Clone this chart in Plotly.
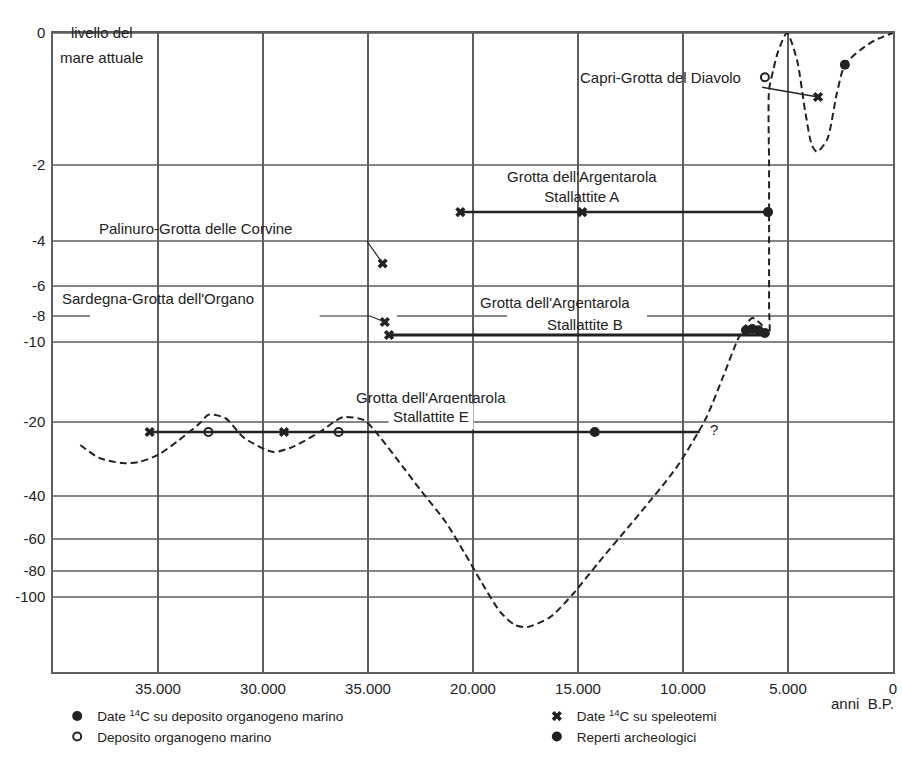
import numpy as np
import plotly.graph_objects as go

# y scale of the original drawing is not linear: metres -> drawing units
level_knots = [-158, -100, -80, -60, -40, -20, -10, -8, -6, -4, -2, 0]
draw_knots = [-639, -564, -538, -506, -463, -389, -309, -283, -253, -208, -132, 0]

# sea level curve (years BP, metres)
curve_years = [38700, 37800, 36700, 35900, 35000, 34000, 33000, 32600, 31800,
               30900, 29500, 28500, 27300, 26200, 25200, 24700, 23300, 22500,
               21300, 20400, 19600, 18700, 18000, 17400, 16300, 15200, 14000,
               12000, 10300, 8900, 8100, 7400, 7000, 6700, 6240, 5900, 5900,
               5900, 5900, 5900, 5900, 5700, 5480, 5050, 4570, 4190, 3860,
               3620, 3140, 2670, 2290, 1570, 860, 0]
curve_level = [-26.2, -29.7, -31.1, -30.8, -28.9, -24.9, -20.3, -19.1, -19.5,
               -24.3, -28.1, -26.5, -22.7, -19.4, -19.75, -22.2, -32.4, -38.4,
               -52.1, -68.8, -88.5, -111.6, -121.7, -123.2, -115.3, -96.9, -74.4,
               -47.4, -32.2, -19.5, -14.4, -9.85, -8.7, -8.15, -8.7, -9.46, -7.5,
               -5.5, -3.5, -2.0, -0.86, -0.56, -0.29, 0, -0.41, -1.17, -1.70,
               -1.80, -1.62, -0.91, -0.48, -0.26, -0.11, 0]

# dated ranges (stalactites) and leaders
stal_a_years = [20600, 5950]
stal_a_level = [-3.24, -3.24]
stal_b_years = [24000, 6100]
stal_b_level = [-9.46, -9.46]
stal_e_years = [35400, 9200]
stal_e_level = [-22.7, -22.7]
capri_years = [6240, 3570]
capri_level = [-0.82, -0.97]
palinuro_years = [25050, 24300]
palinuro_level = [-4.0, -5.0]
sardegna_years = [27300, 24900, 24200]
sardegna_level = [-8.0, -8.0, -8.46]

# point symbols
speleo_years = [35400, 29000, 20600, 14800, 24300, 24200, 24000, 3570]
speleo_level = [-22.7, -22.7, -3.24, -3.24, -5.0, -8.46, -9.46, -0.97]
marine_years = [5950, 14200, 7000, 6700, 6400, 6100]
marine_level = [-3.24, -22.7, -9.1, -9.0, -9.1, -9.3]
deposit_years = [32600, 26400, 6100]
deposit_level = [-22.7, -22.7, -0.67]
archeo_years = [2290]
archeo_level = [-0.48]

y_ticks = [0, -2, -4, -6, -8, -10, -20, -40, -60, -80, -100]
x_ticks = [35000, 30000, 25000, 20000, 15000, 10000, 5000, 0]
x_labels = ["35.000", "30.000", "35.000", "20.000", "15.000", "10.000", "5.000", "0"]

# -8 m grid line is interrupted by labels in the original
grid8_pieces = [(40000, 38240), (23620, 18380), (11710, 0)]


def to_draw(vals):
    return np.interp(vals, level_knots, draw_knots)


INK = "#222222"
GRID = "#5e5e5e"
FONT = "Liberation Sans, Arial, sans-serif"

fig = go.Figure()

fig.add_trace(go.Scatter(
    x=curve_years, y=to_draw(curve_level), mode="lines",
    line=dict(color=INK, width=2, dash="7px,4px", shape="spline", smoothing=0.7),
    showlegend=False, hoverinfo="skip"))

for xs, ys, w in [(stal_a_years, stal_a_level, 2.5), (stal_b_years, stal_b_level, 3),
                  (stal_e_years, stal_e_level, 2.5), (capri_years, capri_level, 1.5),
                  (palinuro_years, palinuro_level, 1.2), (sardegna_years, sardegna_level, 1.2)]:
    fig.add_trace(go.Scatter(x=xs, y=to_draw(ys), mode="lines",
                             line=dict(color=INK, width=w),
                             showlegend=False, hoverinfo="skip"))

fig.add_trace(go.Scatter(
    x=marine_years, y=to_draw(marine_level), mode="markers",
    name="Date <sup>14</sup>C su deposito organogeno marino",
    marker=dict(symbol="circle", size=10, color=INK), legend="legend",
    cliponaxis=False))
fig.add_trace(go.Scatter(
    x=deposit_years, y=to_draw(deposit_level), mode="markers",
    name="Deposito organogeno marino",
    marker=dict(symbol="circle-open", size=8, color=INK, line=dict(width=2)),
    legend="legend", cliponaxis=False))
fig.add_trace(go.Scatter(
    x=speleo_years, y=to_draw(speleo_level), mode="markers",
    name="Date <sup>14</sup>C su speleotemi",
    marker=dict(symbol="x", size=9, color=INK), legend="legend2",
    cliponaxis=False))
fig.add_trace(go.Scatter(
    x=archeo_years, y=to_draw(archeo_level), mode="markers",
    name="Reperti archeologici",
    marker=dict(symbol="circle", size=10, color=INK), legend="legend2",
    cliponaxis=False))

# horizontal grid lines
shapes = []
for lv in y_ticks:
    if lv == -8:
        continue
    yv = float(to_draw(lv))
    shapes.append(dict(type="line", xref="paper", x0=0, x1=1, yref="y", y0=yv, y1=yv,
                       line=dict(color=GRID, width=1.5), layer="below"))
y8 = float(to_draw(-8))
for a, b in grid8_pieces:
    shapes.append(dict(type="line", xref="x", x0=a, x1=b, yref="y", y0=y8, y1=y8,
                       line=dict(color=GRID, width=1.5), layer="below"))

tfont = dict(family=FONT, size=15, color=INK)
ann = []


def label(x, lv, text, **kw):
    ann.append(dict(x=x, y=float(to_draw(lv)), xref="x", yref="y", text=text,
                    showarrow=False, font=tfont, **kw))


label(7143, -0.67, "Capri-Grotta del Diavolo", xanchor="right")
label(14810, -2.57, "Grotta dell'Argentarola<br>Stallattite A")
label(37905, -3.66, "Palinuro-Grotta delle Corvine", xanchor="left")
label(39667, -6.8, "Sardegna-Grotta dell'Organo", xanchor="left")
label(16095, -7.07, "Grotta dell'Argentarola")
label(14667, -8.62, "Stallattite B")
label(22000, -16.9, "Grotta dell'Argentarola")
label(22000, -19.25, "Stallattite E", bgcolor="white", borderpad=4)
label(8524, -21.9, "?")

ann.append(dict(x=37667, y=1.0, xref="x", yref="paper", yshift=11,
                text="livello del", showarrow=False, font=tfont))
ann.append(dict(x=37667, y=1.0, xref="x", yref="paper", yshift=-14,
                text="mare attuale", showarrow=False, font=tfont))
ann.append(dict(x=1.0, y=0, xref="paper", yref="paper", yshift=-31, xshift=3,
                xanchor="right", yanchor="middle", text="anni  B.P.",
                showarrow=False, font=tfont))

fig.update_layout(
    width=902, height=766,
    margin=dict(l=53, r=9, t=33, b=94, autoexpand=False),
    paper_bgcolor="white", plot_bgcolor="white",
    font=tfont,
    shapes=shapes, annotations=ann,
    xaxis=dict(range=[40000, -1], tickvals=x_ticks, ticktext=x_labels,
               showgrid=True, gridcolor=GRID, gridwidth=1.5,
               showline=True, mirror=True, linecolor=GRID, linewidth=1.5,
               zeroline=False, ticks="", tickfont=tfont, automargin=False,
               ticklabelstandoff=2),
    yaxis=dict(range=[-639, 0], tickvals=list(to_draw(y_ticks)),
               ticktext=[str(v) for v in y_ticks],
               showgrid=False, showline=True, mirror=True, linecolor=GRID,
               linewidth=1.5, zeroline=False, ticks="", tickfont=tfont,
               automargin=False, ticklabelstandoff=3),
    legend=dict(x=0.005, y=-0.045, xanchor="left", yanchor="top",
                font=dict(family=FONT, size=13.5, color=INK),
                bgcolor="rgba(0,0,0,0)", itemwidth=30),
    legend2=dict(x=0.576, y=-0.045, xanchor="left", yanchor="top",
                 font=dict(family=FONT, size=13.5, color=INK),
                 bgcolor="rgba(0,0,0,0)", itemwidth=30),
)

# the page's default body margin would shift the figure by 8px
fig.write_html("out.html", config={"displayModeBar": False},
               post_script="document.body.style.margin='0px';")
